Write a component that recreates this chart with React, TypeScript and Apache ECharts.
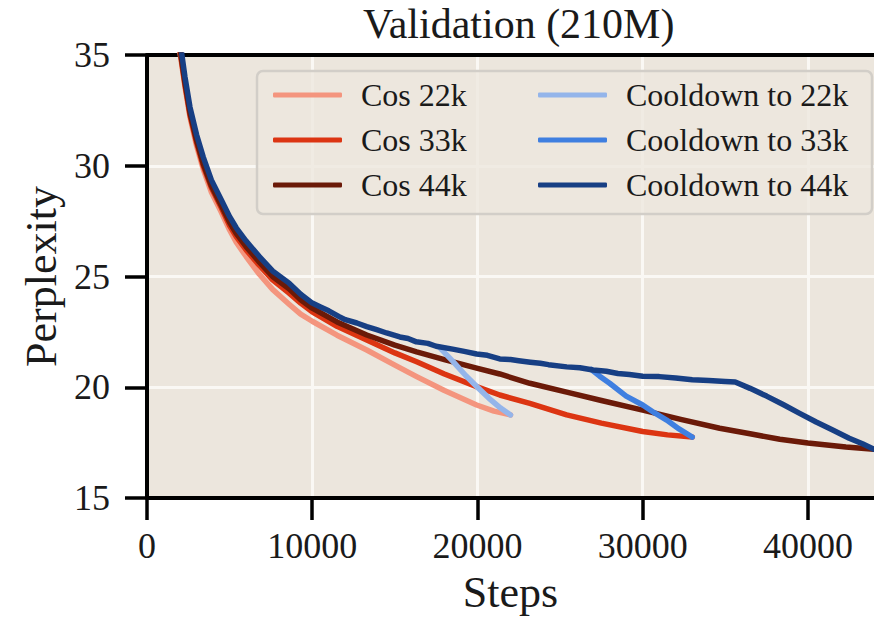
import React, { useEffect, useRef } from "react";
import * as echarts from "echarts";

// Cosine schedules (one run per training length)
const cos22Steps = [1500, 1800, 2000, 2300, 2600, 3000, 3400, 3900, 4500, 5000, 5400, 6000, 6800, 7600, 8600, 9300, 10000, 11500, 13300, 15000, 16320, 18000, 19950, 21000, 22000];
const cos22Ppl = [39.2, 36.5, 35.1, 33.55, 32.2, 30.9, 29.85, 28.8, 27.9, 27.1, 26.55, 25.9, 25.1, 24.42, 23.75, 23.3, 22.98, 22.35, 21.68, 21.0, 20.48, 19.85, 19.2, 18.92, 18.75];

const cos33Steps = [1500, 1800, 2000, 2300, 2600, 3000, 3400, 3900, 4500, 5000, 5400, 6000, 6800, 7600, 8600, 9300, 10000, 11500, 13300, 15000, 16320, 18000, 19950, 21350, 23170, 25400, 27500, 30000, 31500, 33000];
const cos33Ppl = [39.3, 36.6, 35.2, 33.65, 32.3, 31.05, 30.0, 29.0, 28.1, 27.3, 26.8, 26.2, 25.5, 24.85, 24.25, 23.8, 23.4, 22.75, 22.13, 21.55, 21.15, 20.6, 20.03, 19.65, 19.27, 18.75, 18.38, 18.0, 17.85, 17.75];

const cos44Steps = [1500, 1800, 2000, 2300, 2600, 3000, 3400, 3900, 4500, 5000, 5400, 6000, 6800, 7600, 8600, 9300, 10000, 11500, 13300, 15000, 16320, 18000, 19950, 21350, 23170, 25400, 27500, 30000, 32300, 34660, 36500, 38300, 40000, 42300, 44000];
const cos44Ppl = [39.4, 36.7, 35.3, 33.75, 32.4, 31.15, 30.1, 29.1, 28.2, 27.45, 26.95, 26.35, 25.65, 25.0, 24.45, 23.95, 23.57, 22.95, 22.36, 21.9, 21.6, 21.25, 20.86, 20.6, 20.18, 19.78, 19.4, 18.97, 18.55, 18.15, 17.9, 17.65, 17.48, 17.3, 17.2];

// Constant LR + cooldown runs
const cd22Steps = [17700, 18500, 19300, 20000, 20700, 21400, 22000];
const cd22Ppl = [21.8, 21.18, 20.52, 20.0, 19.5, 19.06, 18.75];

const cd33Steps = [26900, 27400, 28000, 29000, 30000, 30700, 31450, 32200, 33000];
const cd33Ppl = [20.8, 20.5, 20.18, 19.6, 19.2, 18.85, 18.52, 18.12, 17.75];

const cd44Steps = [1500, 1800, 2000, 2300, 2600, 3000, 3400, 3900, 4500, 5000, 5400, 6000, 6800, 7600, 8600, 9300, 10000, 10500, 11000, 11600, 12000, 12700, 13300, 13900, 14500, 15300, 15800, 16300, 17000, 17500, 18500, 19200, 19950, 20600, 21350, 22000, 22500, 23200, 23800, 24300, 25400, 26200, 27000, 27800, 28500, 29200, 30000, 31000, 32000, 33000, 34000, 35000, 35600, 36500, 37500, 38500, 39500, 40500, 41500, 42500, 43300, 44000];
const cd44Ppl = [39.8, 37.0, 35.6, 34.0, 32.65, 31.4, 30.4, 29.35, 28.45, 27.7, 27.2, 26.6, 25.9, 25.25, 24.7, 24.2, 23.8, 23.62, 23.45, 23.2, 23.05, 22.9, 22.74, 22.6, 22.45, 22.27, 22.2, 22.05, 21.98, 21.85, 21.72, 21.62, 21.5, 21.44, 21.28, 21.25, 21.2, 21.13, 21.08, 21.02, 20.92, 20.88, 20.78, 20.72, 20.62, 20.58, 20.5, 20.48, 20.42, 20.34, 20.3, 20.26, 20.24, 19.95, 19.6, 19.22, 18.82, 18.43, 18.07, 17.7, 17.45, 17.2];

const cosNames = ["Cos 22k", "Cos 33k", "Cos 44k"];
const cdNames = ["Cooldown to 22k", "Cooldown to 33k", "Cooldown to 44k"];

const xTicks = [0, 10000, 20000, 30000, 40000];

const FONT = '"Liberation Serif", "DejaVu Serif", serif';
const INK = "#1a1a1a";

const zip = (s: number[], v: number[]) => s.map((x, i) => [x, v[i]]);

const lineSeries = (name: string, data: number[][], color: string) => ({
  name,
  type: "line",
  data,
  showSymbol: false,
  symbol: "none",
  clip: true,
  color,
  lineStyle: { color, width: 5.5, cap: "round", join: "round" },
});

export default function App() {
  const ref = useRef<HTMLDivElement>(null);

  useEffect(() => {
    document.body.style.margin = "0";
    if (!ref.current) return;
    const chart = echarts.init(ref.current, null, { renderer: "svg" });

    const legendText = {
      fontSize: 32,
      fontFamily: FONT,
      color: INK,
      lineHeight: 32,
      padding: [0, 0, 0, 14],
    };

    const legendBase = {
      orient: "vertical",
      top: 74,
      itemWidth: 69,
      itemHeight: 5,
      itemGap: 13,
      icon: "roundRect",
      z: 10,
      textStyle: legendText,
    };

    chart.setOption({
      animation: false,
      backgroundColor: "#ffffff",
      title: {
        text: "Validation (210M)",
        left: 358,
        top: -2,
        textStyle: { fontSize: 42, fontWeight: "normal", fontFamily: FONT, color: INK },
      },
      grid: {
        left: 147,
        right: 0,
        top: 55,
        bottom: 119,
        show: true,
        backgroundColor: "#ece6dd",
        borderWidth: 0,
        containLabel: false,
        outerBoundsMode: "none",
      },
      graphic: {
        elements: [
          {
            type: "rect",
            z: 5,
            shape: { x: 257, y: 71, width: 615, height: 143, r: 6 },
            style: { fill: "rgba(237,231,222,0.8)", stroke: "#d2cec8", lineWidth: 2.5 },
          },
        ],
      },
      legend: [
        { ...legendBase, data: cosNames, left: 268 },
        { ...legendBase, data: cdNames, left: 533 },
      ],
      xAxis: [
        {
          type: "value",
          min: 0,
          max: 44000,
          interval: 10000,
          position: "bottom",
          name: "Steps",
          nameLocation: "middle",
          nameGap: 72,
          nameTextStyle: { fontSize: 44, fontFamily: FONT, color: INK },
          axisLine: { show: true, lineStyle: { color: "#000", width: 4 } },
          axisTick: { show: true, length: 22, customValues: xTicks, lineStyle: { color: "#000", width: 3.5 } },
          axisLabel: {
            fontSize: 36,
            fontFamily: FONT,
            color: INK,
            margin: 30,
            customValues: xTicks,
            formatter: (v: number) => String(v),
          },
          splitLine: { show: true, lineStyle: { color: "#faf8f4", width: 3 } },
        },
        {
          type: "value",
          min: 0,
          max: 44000,
          position: "top",
          axisLine: { show: true, lineStyle: { color: "#000", width: 4 } },
          axisTick: { show: false },
          axisLabel: { show: false },
          splitLine: { show: false },
        },
      ],
      yAxis: {
        type: "value",
        min: 15,
        max: 35,
        interval: 5,
        name: "Perplexity",
        nameLocation: "middle",
        nameGap: 83,
        nameTextStyle: { fontSize: 44, fontFamily: FONT, color: INK },
        axisLine: { show: true, lineStyle: { color: "#000", width: 4 } },
        axisTick: { show: true, length: 22, lineStyle: { color: "#000", width: 3.5 } },
        axisLabel: { fontSize: 36, fontFamily: FONT, color: INK, margin: 37 },
        splitLine: { show: true, lineStyle: { color: "#faf8f4", width: 3 } },
      },
      series: [
        lineSeries("Cos 22k", zip(cos22Steps, cos22Ppl), "#f4957e"),
        lineSeries("Cos 33k", zip(cos33Steps, cos33Ppl), "#dc3512"),
        lineSeries("Cos 44k", zip(cos44Steps, cos44Ppl), "#6b1a08"),
        lineSeries("Cooldown to 22k", zip(cd22Steps, cd22Ppl), "#94b5ea"),
        lineSeries("Cooldown to 33k", zip(cd33Steps, cd33Ppl), "#3f7fe0"),
        lineSeries("Cooldown to 44k", zip(cd44Steps, cd44Ppl), "#173f84"),
      ],
    });

    return () => chart.dispose();
  }, []);

  return <div ref={ref} style={{ width: 874, height: 617 }} />;
}
